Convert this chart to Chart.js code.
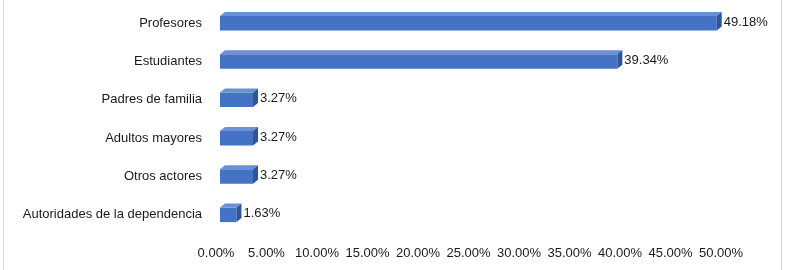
<!DOCTYPE html>
<html>
<head>
<meta charset="utf-8">
<script src="https://cdn.jsdelivr.net/npm/chart.js@4/dist/chart.umd.min.js"></script>
<style>
  html, body { margin: 0; padding: 0; background: #fff; overflow: hidden; }
  #wrap { position: relative; width: 786px; height: 270px; }
  #frame { position: absolute; left: 3px; top: -6px; width: 779px; height: 280px;
           border: 1px solid #d9d9d9; border-radius: 4px; box-sizing: border-box; pointer-events: none; }
</style>
</head>
<body>
<div id="wrap">
  <canvas id="chart" width="786" height="270"></canvas>
  <div id="frame"></div>
</div>
<script>
/* datos del grafico */
var categorias = ['Profesores', 'Estudiantes', 'Padres de familia', 'Adultos mayores', 'Otros actores', 'Autoridades de la dependencia'];
var porcentajes = [49.18, 39.34, 3.27, 3.27, 3.27, 1.63];
var ejeMin = 0, ejeMax = 50, ejePaso = 5;

var C_FRENTE = '#4472c4';
var C_ARRIBA = '#6a90d6';
var C_LADO   = '#2f5597';
var FUENTE   = '"Liberation Sans", Arial, sans-serif';

/* ── barras con efecto 3D + etiquetas de valor ── */
var bar3d = {
    id: 'bar3d',
    afterDatasetsDraw: function (chart) {
        var ctx = chart.ctx;
        var meta = chart.getDatasetMeta(0);
        var dx = 5, dy = 4;
        meta.data.forEach(function (el, i) {
            var p = el.getProps(['x', 'y', 'base', 'height'], true);
            var x0 = p.base, x1 = p.x;
            var top = p.y - p.height / 2, bot = p.y + p.height / 2;
            ctx.save();
            // cara superior
            ctx.fillStyle = C_ARRIBA;
            ctx.beginPath();
            ctx.moveTo(x0, top);
            ctx.lineTo(x0 + dx, top - dy);
            ctx.lineTo(x1 + dx, top - dy);
            ctx.lineTo(x1, top);
            ctx.closePath();
            ctx.fill();
            // cara lateral
            ctx.fillStyle = C_LADO;
            ctx.beginPath();
            ctx.moveTo(x1, top);
            ctx.lineTo(x1 + dx, top - dy);
            ctx.lineTo(x1 + dx, bot - dy);
            ctx.lineTo(x1, bot);
            ctx.closePath();
            ctx.fill();
            // etiqueta
            ctx.fillStyle = '#1a1a1a';
            ctx.font = '13px ' + FUENTE;
            ctx.textAlign = 'left';
            ctx.textBaseline = 'middle';
            ctx.fillText(porcentajes[i].toFixed(2) + '%', x1 + dx + 2, p.y - 1);
            ctx.restore();
        });
    }
};

function sinRelleno(s) {
    s.paddingTop = 0; s.paddingBottom = 0;
    s.paddingLeft = 0; s.paddingRight = 0;
}

new Chart(document.getElementById('chart'), {
    type: 'bar',
    data: {
        labels: categorias,
        datasets: [{
            data: porcentajes,
            backgroundColor: C_FRENTE,
            borderWidth: 0,
            barPercentage: 0.38,
            categoryPercentage: 1,
        }],
    },
    options: {
        indexAxis: 'y',
        responsive: false,
        animation: false,
        layout: { autoPadding: false, padding: { top: 4, right: 61, bottom: 8, left: 0 } },
        plugins: {
            legend: { display: false },
            tooltip: { enabled: false },
        },
        scales: {
            x: {
                min: ejeMin, max: ejeMax,
                grid: { display: false, drawTicks: false },
                border: { display: false },
                afterFit: function (s) { sinRelleno(s); s.height = 28; },
                ticks: {
                    stepSize: ejePaso,
                    padding: 12,
                    labelOffset: -4,
                    maxRotation: 0,
                    autoSkip: false,
                    color: '#1a1a1a',
                    font: { size: 13, family: FUENTE },
                    callback: function (v) { return v.toFixed(2) + '%'; },
                },
            },
            y: {
                grid: { display: false, drawTicks: false },
                border: { display: false },
                afterFit: function (s) { sinRelleno(s); s.width = 220; },
                ticks: {
                    padding: 18,
                    color: '#1a1a1a',
                    font: { size: 13, family: FUENTE },
                },
            },
        },
    },
    plugins: [bar3d],
});
</script>
</body>
</html>
